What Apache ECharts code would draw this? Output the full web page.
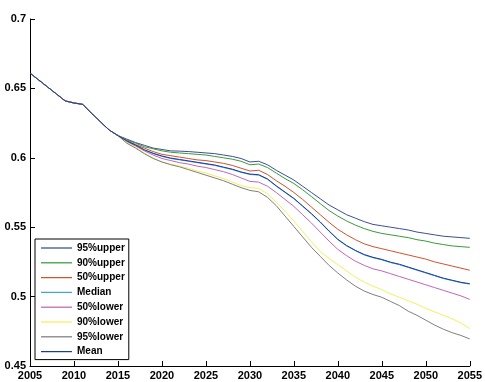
<!DOCTYPE html>
<html>
<head>
<meta charset="utf-8">
<script src="https://cdn.jsdelivr.net/npm/echarts@6/dist/echarts.min.js"></script>
<style>
html,body{margin:0;padding:0;background:#fff;}
#c{width:485px;height:382px;}
</style>
</head>
<body>
<div id="c"></div>
<script>
var years = [];
for (var y = 2005; y <= 2055; y++) years.push(y);

var common = [0.661,0.656,0.651,0.646,0.641,0.6395,0.6385,0.632,0.626,0.620,0.616];

var upper95 = [0.6135,0.611,0.609,0.607,0.606,0.605,0.6048,0.6045,0.604,0.6035,0.603,0.602,0.601,0.5995,0.597,0.5975,0.595,0.591,0.5875,0.584,0.5795,0.575,0.5705,0.566,0.5625,0.559,0.5565,0.554,0.552,0.551,0.55,0.549,0.548,0.5465,0.5455,0.5445,0.5435,0.543,0.5425,0.542];
var upper90 = [0.613,0.6105,0.608,0.6065,0.605,0.604,0.6035,0.603,0.6025,0.602,0.601,0.6,0.599,0.5975,0.595,0.5955,0.593,0.589,0.585,0.5815,0.577,0.572,0.567,0.562,0.558,0.5545,0.5515,0.549,0.547,0.5455,0.5445,0.5435,0.5425,0.541,0.54,0.5385,0.5375,0.5365,0.536,0.5355];
var upper50 = [0.6125,0.6095,0.607,0.6045,0.6025,0.6015,0.6005,0.5995,0.5985,0.598,0.597,0.596,0.5945,0.5925,0.5905,0.591,0.588,0.5835,0.5795,0.575,0.57,0.5645,0.559,0.5535,0.5485,0.5445,0.541,0.538,0.536,0.5345,0.533,0.5315,0.53,0.5285,0.527,0.525,0.5235,0.522,0.5205,0.519];
var median = [0.612,0.609,0.6055,0.603,0.601,0.5995,0.5985,0.5975,0.5965,0.5955,0.5945,0.593,0.5915,0.5895,0.588,0.5875,0.5845,0.5795,0.575,0.5705,0.565,0.5595,0.5535,0.547,0.541,0.5365,0.533,0.53,0.528,0.5265,0.5245,0.523,0.521,0.519,0.517,0.515,0.513,0.5115,0.51,0.509];
var lower50 = [0.6115,0.6085,0.605,0.602,0.5995,0.598,0.5965,0.5955,0.594,0.593,0.5915,0.59,0.588,0.5855,0.583,0.5825,0.5795,0.575,0.57,0.565,0.559,0.553,0.5465,0.54,0.534,0.5295,0.5255,0.5225,0.52,0.5185,0.5165,0.5145,0.5125,0.5105,0.5085,0.5065,0.5045,0.5025,0.5005,0.498];
var lower90 = [0.611,0.6075,0.6035,0.6,0.597,0.5955,0.594,0.5925,0.5905,0.589,0.587,0.585,0.5825,0.58,0.5785,0.578,0.574,0.568,0.5615,0.5545,0.547,0.5395,0.5325,0.5275,0.523,0.5185,0.514,0.5105,0.5075,0.505,0.502,0.4995,0.497,0.4945,0.4915,0.489,0.4865,0.484,0.481,0.477];
var lower95 = [0.6105,0.607,0.603,0.5995,0.597,0.595,0.5935,0.5915,0.5895,0.5875,0.5855,0.5835,0.581,0.5785,0.5765,0.5755,0.5715,0.5655,0.558,0.5505,0.543,0.5355,0.529,0.5225,0.517,0.512,0.5075,0.504,0.5015,0.4995,0.4965,0.4935,0.4895,0.4865,0.483,0.4795,0.4765,0.474,0.472,0.4695];
var mean = [0.6122,0.6092,0.6058,0.6033,0.6013,0.5998,0.5988,0.5978,0.5968,0.5958,0.5948,0.5933,0.5918,0.5898,0.5883,0.5878,0.5848,0.5798,0.5753,0.5708,0.5653,0.5598,0.5538,0.5473,0.5413,0.5368,0.5333,0.5303,0.5283,0.5268,0.5248,0.5233,0.5213,0.5193,0.5173,0.5153,0.5133,0.5118,0.5103,0.5093];

var seriesNames = ['95%upper','90%upper','50%upper','Median','50%lower','90%lower','95%lower','Mean'];
var seriesData = [upper95, upper90, upper50, median, lower50, lower90, lower95, mean];
var colors = ['#3b4f95','#3a9a3a','#d4512b','#3ca8d0','#c266b8','#f2f25a','#7f7f7f','#1f3b9a'];
var yTicks = ['0.45','0.5','0.55','0.6','0.65','0.7'];

function build(vals) {
  var full = common.concat(vals);
  return years.map(function (yr, i) { return [yr, full[i]]; });
}

var chart = echarts.init(document.getElementById('c'), null, {renderer: 'canvas'});
var series = seriesNames.map(function (n, i) {
  return {
    name: n, type: 'line', data: build(seriesData[i]),
    symbol: 'none', showSymbol: false, smooth: false,
    lineStyle: {color: colors[i], width: 1},
    itemStyle: {color: colors[i]},
    emphasis: {disabled: true},
    z: i === 7 ? 3 : 2
  };
});

chart.setOption({
  animation: false,
  backgroundColor: '#ffffff',
  color: colors,
  grid: {left: 30, right: 11, top: 19, bottom: 16, containLabel: false},
  legend: {
    orient: 'vertical', left: 35, top: 239,
    data: seriesNames.map(function (n) {
      return {name: n, icon: 'path://M0,0 L32,0 L32,1.3 L0,1.3 Z'};
    }),
    backgroundColor: '#ffffff',
    borderColor: '#000', borderWidth: 1, borderRadius: 0,
    padding: [4, 4, 3, 6],
    itemWidth: 31, itemHeight: 1.3, itemGap: 4.8,
    textStyle: {color: '#000', fontSize: 10, fontWeight: 'bold', fontFamily: 'Liberation Sans', lineHeight: 10, padding: [0, 0, 0, 0]}
  },
  xAxis: {
    type: 'value', min: 2005, max: 2055, interval: 5,
    axisLine: {lineStyle: {color: '#000', width: 1}},
    axisTick: {inside: true, length: 5, lineStyle: {color: '#000'}},
    axisLabel: {color: '#000', fontSize: 11, fontWeight: 'bold', fontFamily: 'Liberation Sans', margin: 4,
      formatter: function (v) { return String(v); }},
    splitLine: {show: false}
  },
  yAxis: {
    type: 'value', min: 0.45, max: 0.7, interval: 0.05,
    axisLine: {show: true, lineStyle: {color: '#000', width: 1}},
    axisTick: {show: true, inside: true, length: 5, lineStyle: {color: '#000'}},
    axisLabel: {color: '#000', fontSize: 11, fontWeight: 'bold', fontFamily: 'Liberation Sans', margin: 4,
      formatter: function (v) {
        var i = Math.round((v - 0.45) / 0.05);
        return yTicks[i] !== undefined ? yTicks[i] : '';
      }},
    splitLine: {show: false}
  },
  series: series
});
</script>
</body>
</html>
